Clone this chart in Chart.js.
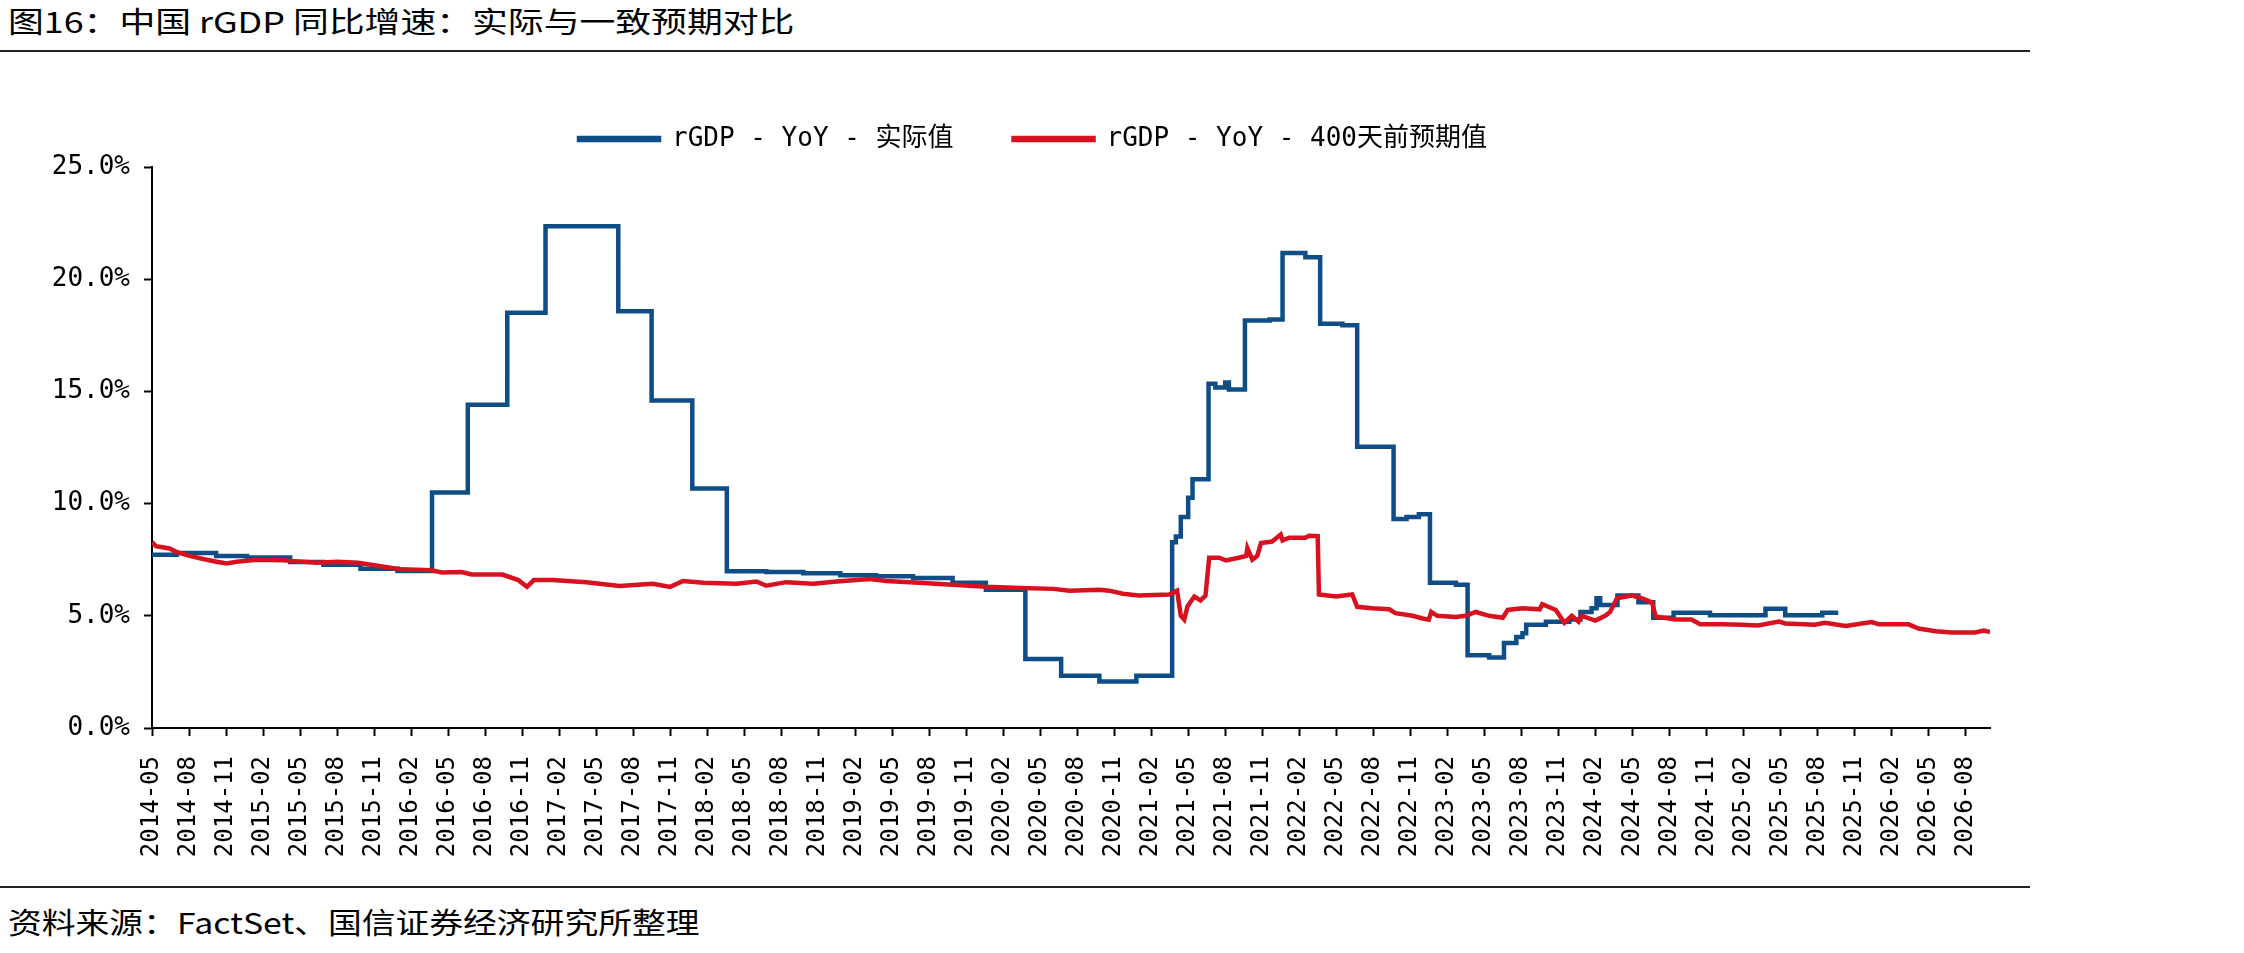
<!DOCTYPE html>
<html>
<head>
<meta charset="utf-8">
<script src="https://cdn.jsdelivr.net/npm/chart.js@4.4.1/dist/chart.umd.min.js"></script>
<style>
  html, body { margin: 0; padding: 0; background: #fff; }
  body { width: 2244px; height: 953px; position: relative; overflow: hidden; font-family: "Noto Sans CJK SC", sans-serif; color: #000; }
  #title { position: absolute; left: 8px; top: 2px; font-size: 29px; line-height: 36px; white-space: nowrap; transform-origin: 0 0; transform: scaleX(1.235); }
  .rule { position: absolute; left: 0; width: 2030px; height: 2px; background: #222; }
  #source { position: absolute; left: 8px; top: 903px; font-size: 29px; line-height: 36px; white-space: nowrap; transform-origin: 0 0; transform: scaleX(1.165); }
  #wrap { position: absolute; left: 0; top: 58px; width: 2244px; height: 820px; }
</style>
</head>
<body>
<div id="title">图16：中国 rGDP 同比增速：实际与一致预期对比</div>
<div class="rule" style="top:50px"></div>
<div id="wrap"><canvas id="chart" width="2244" height="820"></canvas></div>
<div class="rule" style="top:886px"></div>
<div id="source">资料来源：FactSet、国信证券经济研究所整理</div>

<script>
// months counted from 2014-05 (= 0)
const tickLabels = [
  "2014-05", "2014-08", "2014-11", "2015-02", "2015-05", "2015-08", "2015-11",
  "2016-02", "2016-05", "2016-08", "2016-11", "2017-02", "2017-05", "2017-08", "2017-11",
  "2018-02", "2018-05", "2018-08", "2018-11", "2019-02", "2019-05", "2019-08", "2019-11",
  "2020-02", "2020-05", "2020-08", "2020-11", "2021-02", "2021-05", "2021-08", "2021-11",
  "2022-02", "2022-05", "2022-08", "2022-11", "2023-02", "2023-05", "2023-08", "2023-11",
  "2024-02", "2024-05", "2024-08", "2024-11", "2025-02", "2025-05", "2025-08", "2025-11",
  "2026-02", "2026-05", "2026-08"
];
const seriesNames = ["rGDP - YoY - 实际值", "rGDP - YoY - 400天前预期值"];

// actual: month where each level starts, and the level (%)
const actualMonths = [
  0, 2.0, 5.2, 7.7, 11.2, 13.9, 16.9, 19.9, 22.7, 25.6, 28.8, 31.9, 37.8, 40.5, 43.8, 46.6,
  49.8, 52.8, 55.8, 58.7, 61.7, 64.9, 67.6, 70.8, 73.7, 76.8, 79.8, 82.7, 83.0, 83.4, 84.0,
  84.35, 85.65, 86.2, 87.0, 87.3, 88.6, 90.6, 91.65, 93.5, 94.7, 96.5, 97.7, 100.65, 101.7,
  102.7, 103.6, 105.7, 106.65, 108.4, 109.6, 110.6, 111.1, 111.4, 113.0, 114.9, 115.8, 116.7,
  117.1, 117.4, 118.8, 120.5, 121.7, 123.35, 126.3, 130.8, 132.4, 135.4, 136.7
];
const actualValues = [
  7.72, 7.8, 7.67, 7.6, 7.4, 7.28, 7.1, 7.0, 10.5, 14.4, 18.5, 22.36, 18.57, 14.6, 10.67, 6.98,
  6.95, 6.9, 6.81, 6.76, 6.69, 6.47, 6.16, 3.07, 2.33, 2.07, 2.33, 8.28, 8.53, 9.4, 10.26,
  11.09, 15.34, 15.17, 15.4, 15.09, 18.16, 18.2, 21.17, 20.98, 18.02, 17.95, 12.53, 9.31, 9.4,
  9.53, 6.47, 6.38, 3.24, 3.14, 3.79, 4.05, 4.22, 4.6, 4.74, 4.83, 5.17, 5.34,
  5.78, 5.48, 5.9, 5.6, 4.91, 5.14, 5.03, 5.31, 5.03, 5.14, 5.14
];

// consensus forecast made 400 days earlier
const forecastMonths = [
  0, 0.33, 1.42, 1.96, 3.05, 4.14, 5.23, 6.04, 6.86, 8.49, 10.67, 13.4, 15.0, 16.7, 18.8, 20.2,
  22.65, 23.5, 25.1, 25.9, 28.4, 29.7, 30.4, 30.96, 32.45, 35.2, 37.9, 40.6, 42.0, 43.05, 44.7,
  47.4, 49.0, 49.8, 51.4, 53.6, 55.5, 58.2, 59.5, 62.2, 64.9, 67.6, 70.4, 73.05, 74.4, 76.8,
  77.6, 78.7, 80.0, 82.46, 83.1, 83.4, 83.68, 83.95, 84.5, 85.0, 85.4, 85.7, 86.5, 87.05, 88.1,
  88.7, 88.8, 89.2, 89.6, 89.9, 90.8, 91.5, 91.65, 92.2, 93.5, 93.8, 94.5, 94.6, 96.0, 97.3,
  97.7, 98.9, 100.3, 100.8, 102.2, 103.0, 103.5, 103.7, 104.2, 105.7, 106.5, 107.3, 108.4,
  109.5, 109.9, 111.1, 112.5, 112.7, 113.8, 114.5, 115.1, 115.65, 115.9, 117.0, 117.8, 118.2,
  118.76, 119.97, 120.8, 121.6, 121.9, 123.5, 124.8, 125.5, 127.3, 128.9, 130.2, 131.9, 132.4,
  134.8, 135.6, 137.3, 139.4, 140.0, 142.4, 143.2, 144.6, 145.9, 147.8, 148.5, 149.0
];
const forecastValues = [
  8.28, 8.1, 8.0, 7.85, 7.67, 7.53, 7.41, 7.33, 7.41, 7.5, 7.47, 7.36, 7.41, 7.36, 7.19, 7.07,
  7.03, 6.93, 6.95, 6.84, 6.84, 6.59, 6.29, 6.59, 6.59, 6.5, 6.33, 6.43, 6.29, 6.55, 6.47,
  6.43, 6.53, 6.34, 6.5, 6.43, 6.53, 6.64, 6.55, 6.47, 6.38, 6.29, 6.24, 6.2, 6.12, 6.16,
  6.12, 5.98, 5.9, 5.95, 6.12, 5.0, 4.83, 5.43, 5.86, 5.69, 5.9, 7.59, 7.59, 7.47, 7.59,
  7.67, 8.02, 7.5, 7.67, 8.24, 8.31, 8.62, 8.36, 8.48, 8.48, 8.57, 8.55, 5.95, 5.86, 5.95,
  5.4, 5.34, 5.29, 5.12, 5.0, 4.88, 4.83, 5.17, 5.0, 4.95, 5.0, 5.17, 5.0,
  4.91, 5.26, 5.34, 5.29, 5.52, 5.26, 4.69, 5.0, 4.74, 5.0, 4.79, 5.0, 5.17,
  5.78, 5.9, 5.78, 5.6, 4.97, 4.83, 4.83, 4.62, 4.62, 4.6, 4.57, 4.74, 4.66,
  4.6, 4.69, 4.55, 4.72, 4.62, 4.62, 4.43, 4.31, 4.26, 4.26, 4.34, 4.28
];

const BLUE = "#0e4d85";
const RED = "#d8101f";
const monoFont = "'DejaVu Sans Mono', 'Noto Sans CJK SC', monospace";

const toPoints = (xs, ys) => xs.map((x, i) => ({ x: x, y: ys[i] }));

const axisGrid = {
  display: true,
  drawOnChartArea: false,
  drawTicks: true,
  tickLength: 8,
  tickWidth: 2,
  tickColor: "#000"
};

// legend: a bit more room below it, and nudged right like the original
const legendPlace = {
  id: "legendPlace",
  beforeInit(chart) {
    const fit = chart.legend.fit;
    chart.legend.fit = function () {
      fit.call(this);
      this.height += 5;
    };
  },
  afterLayout(chart) {
    chart.legend.left += 12;
    chart.legend.right += 12;
  }
};

new Chart(document.getElementById("chart"), {
  type: "line",
  data: {
    datasets: [
      {
        label: seriesNames[0],
        data: toPoints(actualMonths, actualValues),
        borderColor: BLUE,
        backgroundColor: BLUE,
        borderWidth: 4.5,
        pointRadius: 0,
        stepped: true,
        order: 2
      },
      {
        label: seriesNames[1],
        data: toPoints(forecastMonths, forecastValues),
        borderColor: RED,
        backgroundColor: RED,
        borderWidth: 4.5,
        pointRadius: 0,
        tension: 0,
        order: 1
      }
    ]
  },
  options: {
    responsive: false,
    animation: false,
    devicePixelRatio: 1,
    layout: { padding: { left: 52, right: 254, top: 8, bottom: 0 } },
    plugins: {
      tooltip: { enabled: false },
      legend: {
        position: "top",
        labels: {
          boxWidth: 80,
          boxHeight: 2,
          padding: 60,
          color: "#000",
          font: { family: monoFont, size: 26 },
          sort: (a, b) => a.datasetIndex - b.datasetIndex
        }
      }
    },
    scales: {
      x: {
        type: "linear",
        min: 0,
        max: 149,
        afterFit: (scale) => { scale.height = 150; },
        grid: axisGrid,
        border: { display: true, color: "#000", width: 2 },
        ticks: {
          stepSize: 3,
          includeBounds: false,
          autoSkip: false,
          minRotation: 90,
          maxRotation: 90,
          padding: 20,
          color: "#000",
          font: { family: monoFont, size: 24 },
          callback: (v) => tickLabels[Math.round(v / 3)]
        }
      },
      y: {
        min: 0,
        max: 25,
        afterFit: (scale) => { scale.width = 100; },
        grid: axisGrid,
        border: { display: true, color: "#000", width: 2 },
        ticks: {
          stepSize: 5,
          padding: 14,
          color: "#000",
          font: { family: monoFont, size: 26 },
          callback: (v) => v.toFixed(1) + "%"
        }
      }
    }
  },
  plugins: [legendPlace]
});
</script>
</body>
</html>
